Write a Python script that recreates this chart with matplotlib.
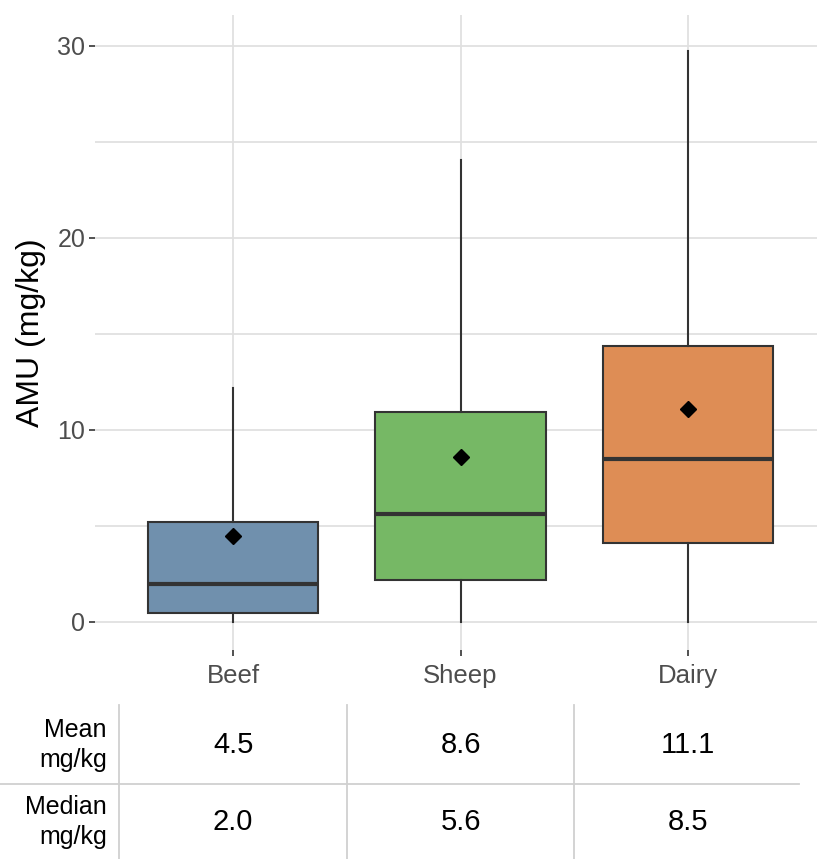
"""AMU (mg/kg) by farm type: boxplot with mean markers and a summary table below."""
import matplotlib
matplotlib.use("Agg")
from matplotlib import pyplot as plt

plt.rcParams["font.family"] = ["Liberation Sans", "DejaVu Sans"]

# data
groups = ["Beef", "Sheep", "Dairy"]
whislo = [0.0, 0.0, 0.0]
q1 = [0.47, 2.19, 4.11]
med = [2.0, 5.6, 8.5]
q3 = [5.2, 10.94, 14.38]
whishi = [12.2, 24.06, 29.7]
means = [4.5, 8.6, 11.1]
colors = ["#7090AD", "#76B865", "#DE8D55"]
row_labels = ["Mean\nmg/kg", "Median\nmg/kg"]

W, H = 817, 859
fig = plt.figure(figsize=(W / 100, H / 100), dpi=100)

# main panel, pixel-placed
ax = fig.add_axes([95 / W, (H - 650) / H, (W - 95) / W, (650 - 15) / H])
stats = [dict(whislo=a, q1=b, med=c, q3=d, whishi=e, fliers=[], label=g)
         for a, b, c, d, e, g in zip(whislo, q1, med, q3, whishi, groups)]
pos = list(range(len(groups)))
bp = ax.bxp(stats, positions=pos, widths=0.75, patch_artist=True, showcaps=False,
            boxprops=dict(edgecolor="#333333", linewidth=1.5),
            whiskerprops=dict(color="#333333", linewidth=1.5),
            medianprops=dict(color="#333333", linewidth=3),
            zorder=3)
for patch, c in zip(bp["boxes"], colors):
    patch.set_facecolor(c)
ax.plot(pos, means, "D", color="black", ms=8, zorder=4)

ax.set_xlim(-0.607, 2.567)
ax.set_ylim(-1.46, 31.6)
ax.set_yticks([0, 10, 20, 30])
ax.set_yticks([5, 15, 25], minor=True)
ax.grid(True, which="both", color="#E0E0E0", lw=1.3, zorder=0)
ax.set_axisbelow(True)
for s in ax.spines.values():
    s.set_visible(False)
ax.tick_params(axis="y", which="major", length=4, color="#333333", width=1.2,
               labelsize=18, labelcolor="#4D4D4D", pad=3)
ax.tick_params(axis="y", which="minor", length=0)
ax.tick_params(axis="x", length=4, color="#333333", width=1.2,
               labelsize=18.5, labelcolor="#4D4D4D", pad=6)
ax.set_xticks(pos, groups)
ax.set_ylabel("AMU (mg/kg)", fontsize=23, labelpad=8)

# summary table below the panel, sharing the x scale
tab = fig.add_axes([95 / W, 0, (W - 95) / W, (H - 705) / H])
tab.set_xlim(ax.get_xlim())
tab.set_ylim(2, 0)
tab.axis("off")
for xv in [-0.5, 0.5, 1.5]:
    tab.plot([xv, xv], [0, 2], color="#D0D0D0", lw=1.3, clip_on=False)
tab.plot([-1.03, 2.49], [1.02, 1.02], color="#D0D0D0", lw=1.3, clip_on=False)
for r, (lbl, vals) in enumerate(zip(row_labels, [means, med])):
    yv = 0.52 + r * 1.0
    tab.text(-0.555, yv, lbl, ha="right", va="center", fontsize=18, linespacing=1.3)
    for i, v in enumerate(vals):
        tab.text(i, yv, f"{v:.1f}", ha="center", va="center", fontsize=21)

fig.savefig("out.png", dpi=100)
